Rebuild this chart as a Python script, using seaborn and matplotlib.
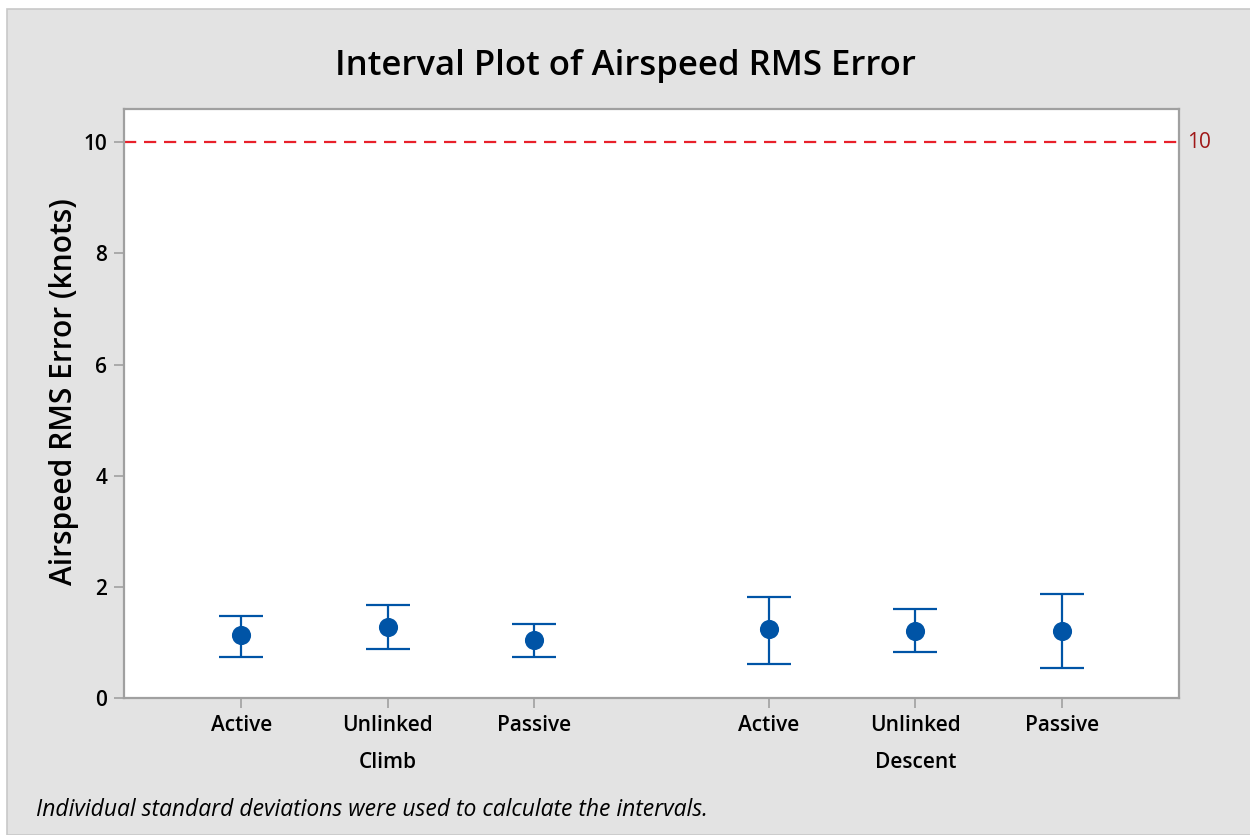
import numpy as np
import pandas as pd
import matplotlib
matplotlib.use("Agg")
import matplotlib.pyplot as plt
import seaborn as sns
from matplotlib.patches import Rectangle

# values
phases = ["Climb", "Climb", "Climb", "Descent", "Descent", "Descent"]
modes = ["Active", "Unlinked", "Passive", "Active", "Unlinked", "Passive"]
means = [1.13, 1.28, 1.04, 1.24, 1.21, 1.20]
lower = [0.73, 0.89, 0.73, 0.61, 0.82, 0.54]
upper = [1.48, 1.67, 1.33, 1.82, 1.60, 1.87]
limit_value = 10
y_ticks = [0, 2, 4, 6, 8, 10]

blue = "#0054a6"
gray_bg = "#e3e3e3"

sns.set_theme(style="white")
plt.rcParams["font.family"] = ["Open Sans", "DejaVu Sans"]
plt.rcParams["text.color"] = "black"
plt.rcParams["axes.labelcolor"] = "black"
plt.rcParams["xtick.labelcolor"] = "black"
plt.rcParams["ytick.labelcolor"] = "black"

df = pd.DataFrame({"phase": phases, "mode": modes, "mean": means,
                   "lower": lower, "upper": upper})
# group slots: three per phase with a wider gap between phases
df["pos"] = [0, 1, 2, 3.6, 4.6, 5.6]

fig = plt.figure(figsize=(12.5, 8.35), dpi=100)
fig.patch.set_facecolor("white")
fig.patches.append(Rectangle((7 / 1250, 0), 1.0, 1 - 9 / 835, transform=fig.transFigure,
                             facecolor=gray_bg, edgecolor="#c8c8c8", linewidth=1.2, zorder=-1))

ax = fig.add_axes([124 / 1250, 1 - 698 / 835, (1179 - 124) / 1250, (698 - 109) / 835])
ax.set_facecolor("white")

# interval whiskers
ax.errorbar(df["pos"], df["mean"],
            yerr=[df["mean"] - df["lower"], df["upper"] - df["mean"]],
            fmt="none", ecolor=blue, elinewidth=1.6, capsize=16, capthick=1.6, zorder=2)
sns.scatterplot(data=df, x="pos", y="mean", ax=ax, color=blue, s=190,
                edgecolor=blue, linewidth=0, zorder=3, legend=False)

ax.axhline(limit_value, color="#e8202a", linestyle=(0, (5.5, 3.5)), linewidth=1.6, zorder=1)
ax.text(1.008, limit_value, str(limit_value), transform=ax.get_yaxis_transform(),
        color="#a01818", fontsize=15, va="center", ha="left")

ax.set_xlim(-0.8, 6.4)
ax.set_ylim(0, 10.6)
ax.set_yticks(y_ticks)
ax.set_xticks(df["pos"])
ax.set_xticklabels(df["mode"], fontsize=15, fontweight="semibold")
ax.set_yticklabels([str(t) for t in y_ticks], fontsize=15, fontweight="semibold")
ax.tick_params(axis="both", length=7, width=1.2, color="#a0a0a0", pad=5,
               bottom=True, left=True)
ax.set_xlabel("")
ax.set_ylabel("Airspeed RMS Error (knots)", fontsize=21.5, fontweight="semibold")
ax.yaxis.set_label_coords(-0.043, 0.52)

for side in ["left", "bottom", "right", "top"]:
    ax.spines[side].set_color("#a0a0a0")
    ax.spines[side].set_linewidth(1.6)

# phase labels under the middle of each group
for phase, grp in df.groupby("phase"):
    ax.text(grp["pos"].mean(), -0.11, phase, transform=ax.get_xaxis_transform(),
            ha="center", va="center", fontsize=15, fontweight="semibold")

fig.text(0.5, 1 - 66 / 835, "Interval Plot of Airspeed RMS Error", ha="center", va="center",
         fontsize=25, fontweight="semibold")
fig.text(36 / 1250, 1 - 810 / 835, "Individual standard deviations were used to calculate the intervals.",
         ha="left", va="center", fontsize=16.5, style="italic")

fig.savefig("out.png", dpi=100)
